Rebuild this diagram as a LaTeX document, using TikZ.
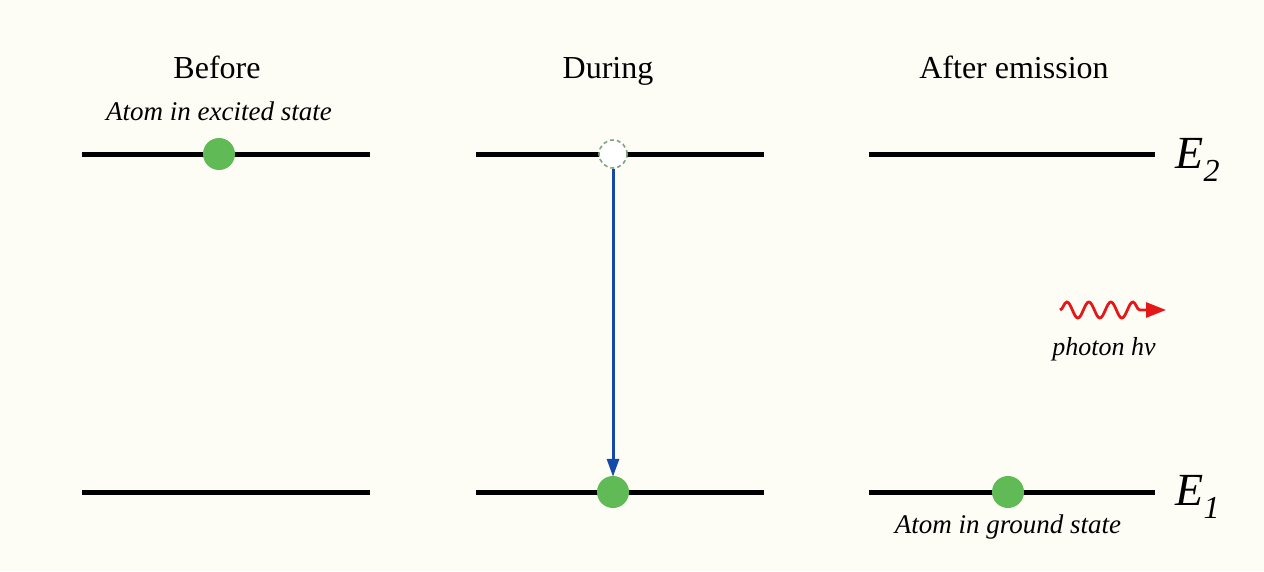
\documentclass[tikz,border=0pt]{standalone}
\usepackage{fontspec}
\setmainfont{Liberation Serif}
\usetikzlibrary{decorations.pathmorphing,arrows.meta}
\definecolor{bgcream}{RGB}{253,253,246}
\definecolor{atomgreen}{RGB}{96,186,86}
\definecolor{dashgreen}{RGB}{130,165,130}
\definecolor{transblue}{RGB}{22,72,168}
\definecolor{photonred}{RGB}{228,24,24}
\tikzset{
  level/.style={line width=5pt, black},
  atom/.style={circle, fill=atomgreen, minimum size=32pt, inner sep=0pt},
  emptyatom/.style={circle, draw=dashgreen, fill=white, dash pattern=on 4pt off 3pt, line width=1.6pt, minimum size=28pt, inner sep=0pt},
  title/.style={font=\fontsize{32}{36}\selectfont, anchor=base},
  note/.style={font=\fontsize{27}{32}\selectfont\itshape, anchor=base},
  elabel/.style={font=\fontsize{46}{50}\selectfont\itshape, anchor=west},
}
\begin{document}
\begin{tikzpicture}[x=1pt,y=-1pt]
\fill[bgcream] (0,0) rectangle (1264,571);
\useasboundingbox (0,0) rectangle (1264,571);

% level end points
\coordinate (b2l) at (82,154);  \coordinate (b2r) at (370,154);
\coordinate (d2l) at (476,154); \coordinate (d2r) at (764,154);
\coordinate (a2l) at (869,154); \coordinate (a2r) at (1155,154);
\coordinate (b1l) at (82,492);  \coordinate (b1r) at (370,492);
\coordinate (d1l) at (476,492); \coordinate (d1r) at (764,492);
\coordinate (a1l) at (869,492); \coordinate (a1r) at (1155,492);

\draw[level] (b2l) -- (b2r);
\draw[level] (d2l) -- (d2r);
\draw[level] (a2l) -- (a2r);
\draw[level] (b1l) -- (b1r);
\draw[level] (d1l) -- (d1r);
\draw[level] (a1l) -- (a1r);

% titles
\node[title] (tb) at (217,78) {Before};
\node[title] (td) at (608,78) {During};
\node[title] (ta) at (1014,78) {After emission};

% atoms
\node[atom] (ab) at (219,154) {};
\node[emptyatom] (ad) at (613,154) {};
\node[atom] (ag) at (613,492) {};
\node[atom] (aa) at (1008,492) {};

\draw[transblue, line width=3pt, -{Triangle[length=18pt,width=12pt]}, shorten >=-1pt] (ad.south) -- (ag.north);

% notes
\node[note] (nex) at (219,120) {Atom in excited state};
\node[note] (ngr) at (1008,533) {Atom in ground state};

% energy labels
\node[elabel] (e2) at (1172,160) {E\raisebox{-0.3em}{\fontsize{32}{34}\selectfont 2}};
\node[elabel] (e1) at (1172,497) {E\raisebox{-0.3em}{\fontsize{32}{34}\selectfont 1}};

% photon
\coordinate (p1) at (1060,310);
\coordinate (p2) at (1166,310);
\draw[photonred, line width=2.8pt, decorate, decoration={snake, amplitude=8pt, segment length=22pt, post length=20pt}, -{Triangle[length=20pt,width=15pt]}] (p1) -- (p2);
\node[note, font=\fontsize{26}{30}\selectfont\itshape] (nph) at (1104,355) {photon hν};
\end{tikzpicture}
\end{document}
